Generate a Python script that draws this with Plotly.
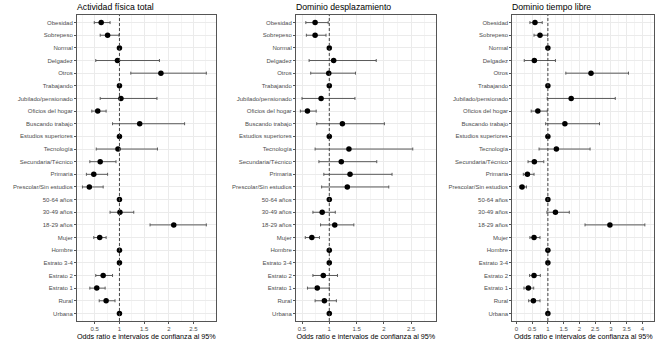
import numpy as np
import plotly.graph_objects as go

categories = ["Obesidad", "Sobrepeso", "Normal", "Delgadez", "Otros", "Trabajando",
              "Jubilado/pensionado", "Oficios del hogar", "Buscando trabajo",
              "Estudios superiores", "Tecnología", "Secundaria/Técnico", "Primaria",
              "Prescolar/Sin estudios", "50-64 años", "30-49 años", "18-29 años",
              "Mujer", "Hombre", "Estrato 3-4", "Estrato 2", "Estrato 1", "Rural", "Urbana"]

N = None
# Actividad física total
af_or = [0.63, 0.76, 1, 0.96, 1.84, 1, 1.03, 0.56, 1.41, 1, 0.97, 0.61, 0.48, 0.39,
         1, 1.01, 2.10, 0.60, 1, 1, 0.67, 0.54, 0.73, 1]
af_lo = [0.49, 0.61, N, 0.52, 1.23, N, 0.61, 0.44, 0.86, N, 0.53, 0.40, 0.33, 0.25,
         N, 0.81, 1.62, 0.48, N, N, 0.52, 0.40, 0.59, N]
af_hi = [0.81, 0.99, N, 1.81, 2.76, N, 1.76, 0.73, 2.32, N, 1.77, 0.93, 0.76, 0.67,
         N, 1.29, 2.76, 0.73, N, N, 0.86, 0.71, 0.91, N]

# Dominio desplazamiento
dd_or = [0.74, 0.74, 1, 1.08, 0.99, 1, 0.85, 0.60, 1.24, 1, 1.36, 1.22, 1.38, 1.33,
         1, 0.87, 1.10, 0.68, 1, 1, 0.89, 0.78, 0.91, 1]
dd_lo = [0.57, 0.58, N, 0.63, 0.66, N, 0.50, 0.47, 0.77, N, 0.74, 0.81, 0.90, 0.86,
         N, 0.70, 0.84, 0.56, N, N, 0.70, 0.60, 0.74, N]
dd_hi = [0.98, 0.94, N, 1.86, 1.48, N, 1.47, 0.76, 2.01, N, 2.53, 1.87, 2.15, 2.09,
         N, 1.11, 1.45, 0.82, N, N, 1.15, 1.00, 1.13, N]

# Dominio tiempo libre
tl_or = [0.59, 0.75, 1, 0.57, 2.37, 1, 1.74, 0.68, 1.54, 1, 1.27, 0.57, 0.35, 0.18,
         1, 1.24, 2.97, 0.56, 1, 1, 0.56, 0.38, 0.54, 1]
tl_lo = [0.43, 0.56, N, 0.25, 1.57, N, 0.98, 0.47, 0.93, N, 0.72, 0.37, 0.22, 0.11,
         N, 0.97, 2.18, 0.43, N, N, 0.42, 0.24, 0.39, N]
tl_hi = [0.82, 0.99, N, 1.24, 3.56, N, 3.14, 0.98, 2.64, N, 2.34, 0.87, 0.56, 0.32,
         N, 1.68, 4.08, 0.75, N, N, 0.76, 0.55, 0.75, N]

titles = ["Actividad física total", "Dominio desplazamiento", "Dominio tiempo libre"]
xtitle = "Odds ratio e intervalos de confianza al 95%"

panels = [
    (titles[0], af_or, af_lo, af_hi, [0.14, 2.95], [77 / 657, 215.7 / 657]),
    (titles[1], dd_or, dd_lo, dd_hi, [0.39, 2.95], [296 / 657, 435.7 / 657]),
    (titles[2], tl_or, tl_lo, tl_hi, [-0.13, 4.38], [512.3 / 657, 654.3 / 657]),
]

W, H = 657, 344
ydom = [1 - 321 / H, 1 - 15 / H]

fig = go.Figure()
layout = dict(width=W, height=H, margin=dict(l=0, r=0, t=0, b=0, autoexpand=False),
              paper_bgcolor="white", plot_bgcolor="white",
              font=dict(family="Liberation Sans, Arial, sans-serif", color="#4d4d4d"),
              showlegend=False, shapes=[], annotations=[])

BORDER = "#555555"
for i, (title, orv, lo, hi, rng, xdom) in enumerate(panels):
    sfx = "" if i == 0 else str(i + 1)
    orr = np.array(orv, dtype=float)
    loa = np.array([np.nan if v is None else v for v in lo], dtype=float)
    hia = np.array([np.nan if v is None else v for v in hi], dtype=float)
    fig.add_trace(go.Scatter(
        x=orr, y=categories, mode="markers",
        xaxis="x" + sfx, yaxis="y" + sfx,
        marker=dict(color="black", size=5.5),
        error_x=dict(type="data", symmetric=False, array=hia - orr, arrayminus=orr - loa,
                     color="#5a5a5a", thickness=1, width=1.5),
        hoverinfo="skip"))
    layout["xaxis" + sfx] = dict(
        domain=xdom, range=rng, anchor="y" + sfx, tick0=0, dtick=0.5,
        showgrid=True, gridcolor="#EBEBEB", gridwidth=0.8, zeroline=False,
        minor=dict(tick0=0, dtick=0.25, showgrid=True, gridcolor="#F5F5F5", gridwidth=0.5),
        showline=True, mirror=True, linecolor=BORDER, linewidth=1,
        ticks="outside", ticklen=2, tickcolor=BORDER, automargin=False,
        tickfont=dict(size=6, color="#4d4d4d"),
        title=dict(text=xtitle, font=dict(size=7.2, color="black"), standoff=1))
    layout["yaxis" + sfx] = dict(
        domain=ydom, anchor="x" + sfx, type="category",
        categoryorder="array", categoryarray=categories,
        range=[len(categories) - 1 + 0.6, -0.6],
        showgrid=True, gridcolor="#EBEBEB", gridwidth=0.8, zeroline=False,
        showline=True, mirror=True, linecolor=BORDER, linewidth=1,
        ticks="outside", ticklen=2, tickcolor=BORDER, automargin=False,
        tickfont=dict(size=6, color="#4d4d4d"))
    layout["shapes"].append(dict(
        type="line", xref="x" + sfx, yref="y" + sfx + " domain", x0=1, x1=1, y0=0, y1=1,
        line=dict(color="#444444", width=1, dash="3px,2px"), layer="above"))
    layout["annotations"].append(dict(
        text=title, xref="x" + sfx + " domain", yref="y" + sfx + " domain",
        x=0, y=1, xanchor="left", yanchor="bottom", xshift=-2, yshift=1, showarrow=False,
        font=dict(size=8.7, color="black")))

fig.update_layout(**layout)
fig.write_html("out.html", post_script="document.body.style.margin='0';",
               config={"displayModeBar": False})
